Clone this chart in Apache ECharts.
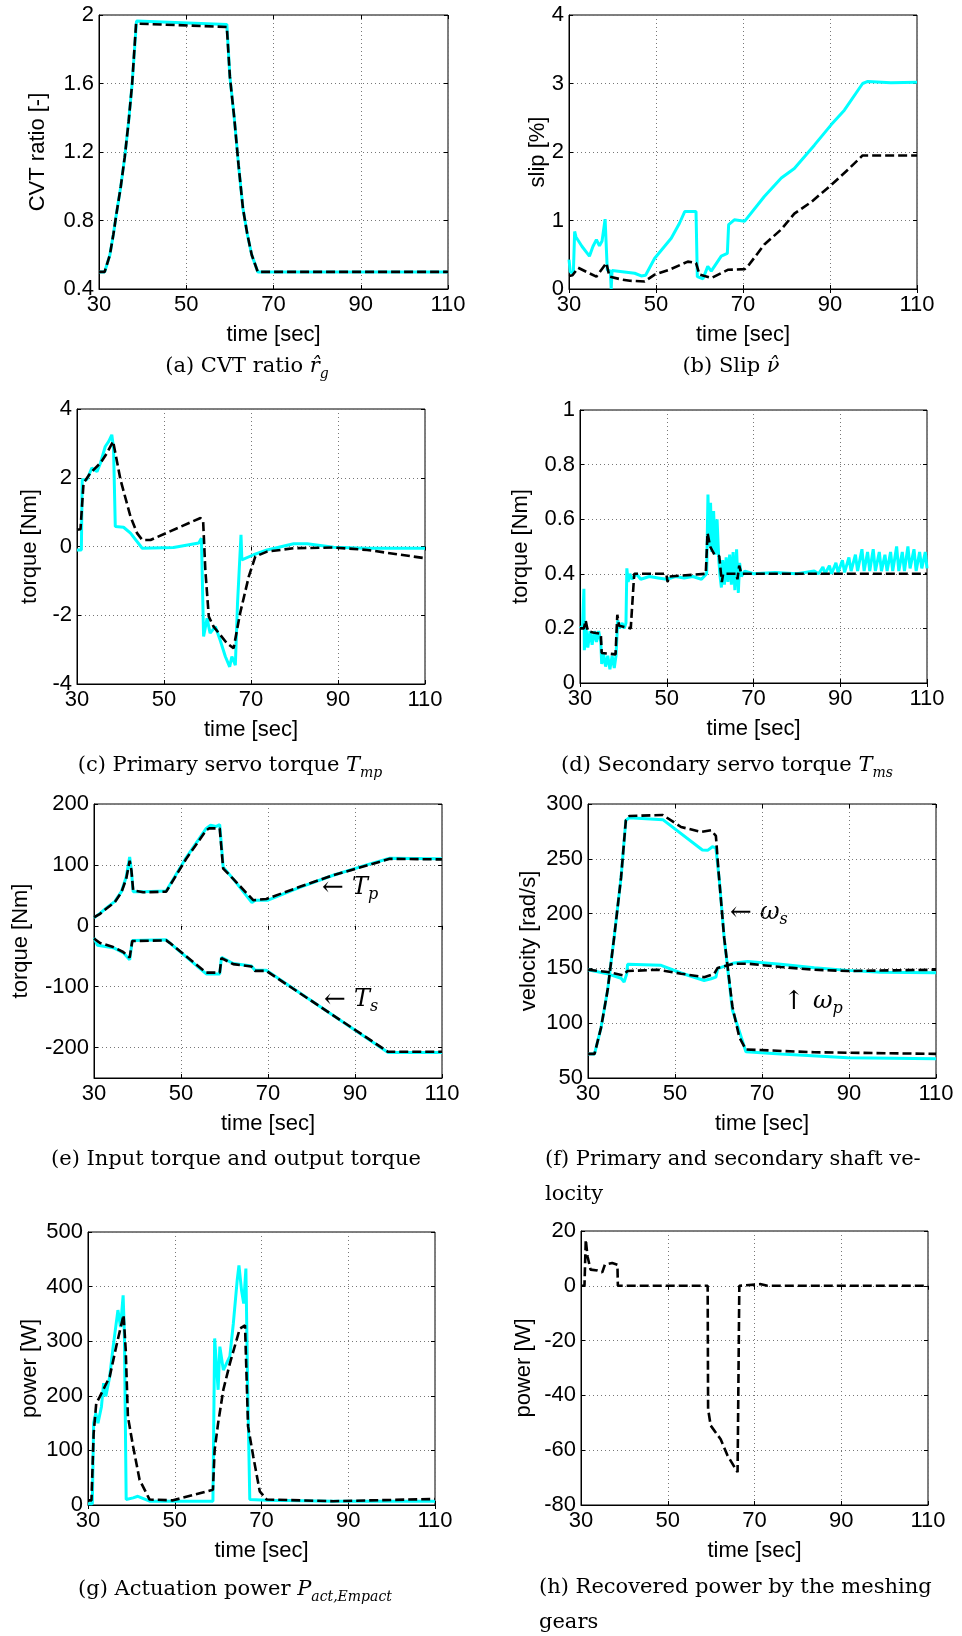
<!DOCTYPE html>
<html><head><meta charset="utf-8">
<script src="https://cdn.jsdelivr.net/npm/echarts@6/dist/echarts.min.js"></script>
<style>html,body{margin:0;padding:0;background:#fff}#c{width:962px;height:1636px}</style>
</head><body><div id="c"></div>
<script>
// ---------- tick labels ----------
const timeTicks = [30, 50, 70, 90, 110];
const ticksA = [0.4, 0.8, 1.2, 1.6, 2];
const ticksB = [0, 1, 2, 3, 4];
const ticksC = [-4, -2, 0, 2, 4];
const ticksD = [0, 0.2, 0.4, 0.6, 0.8, 1];
const ticksE = [-200, -100, 0, 100, 200];
const ticksF = [50, 100, 150, 200, 250, 300];
const ticksG = [0, 100, 200, 300, 400, 500];
const ticksH = [-80, -60, -40, -20, 0, 20];

// ---------- (a) CVT ratio ----------
const cvtRef = [[30,0.5],[31.3,0.5],[32.5,0.6],[33.3,0.72],[34,0.84],[35,1.0],[35.9,1.17],[36.8,1.38],[37.6,1.6],[38.5,1.95],[59.3,1.93],[60,1.64],[61,1.4],[62,1.12],[63,0.87],[64,0.72],[65,0.6],[66.4,0.5],[110,0.5]];
const cvtMeas = [[30,0.5],[31.3,0.5],[32.5,0.6],[33.3,0.72],[34,0.84],[35,1.0],[35.9,1.17],[36.8,1.38],[37.6,1.6],[38.6,1.965],[59.3,1.945],[60,1.64],[61,1.4],[62,1.12],[63,0.87],[64,0.72],[65,0.6],[66.4,0.5],[110,0.5]];

// ---------- (b) slip ----------
const slipRef = [[30,0.19],[30.8,0.2],[32.1,0.31],[34,0.25],[36.3,0.18],[38.6,0.38],[39.3,0.18],[42,0.14],[44,0.12],[47.4,0.11],[49.7,0.21],[53,0.28],[57.3,0.4],[59.2,0.38],[60,0.21],[62.7,0.16],[66.5,0.28],[70.4,0.29],[71.1,0.33],[74.9,0.65],[78.8,0.87],[81.8,1.1],[85.7,1.27],[90.3,1.52],[94.1,1.74],[97.5,1.95],[110,1.95]];
const slipMeas = [[30,0.43],[30.3,0.25],[31,0.23],[31.3,0.84],[31.6,0.76],[33,0.62],[34.7,0.48],[35.5,0.62],[36.3,0.72],[37,0.63],[37.6,0.7],[38.3,1.02],[38.8,0.28],[39.5,0.26],[39.7,0],[39.9,0.27],[41.3,0.26],[45.1,0.23],[46.6,0.19],[47.6,0.2],[49.7,0.45],[53.5,0.74],[55.4,0.96],[56.6,1.13],[59.2,1.13],[59.5,0.18],[60.8,0.15],[61.9,0.33],[62.7,0.26],[65,0.48],[66.4,0.52],[66.7,0.94],[68,1.01],[70.4,0.99],[74.9,1.35],[78.8,1.62],[81.8,1.76],[86.4,2.1],[90.3,2.4],[93.3,2.61],[97.5,3.0],[98.7,3.03],[104,3.01],[110,3.02]];

// ---------- (c) primary servo torque ----------
const tmpRef = [[30,0.49],[30.8,0.5],[31.5,1.84],[33.1,2.14],[35.4,2.43],[36.9,2.72],[38.3,3.06],[40,1.94],[42.3,0.87],[43.8,0.39],[45,0.19],[46.9,0.19],[58.4,0.83],[59,0.73],[59.5,-0.68],[60.3,-2.04],[61.4,-2.33],[64.5,-2.82],[66,-2.96],[67.5,-1.94],[69.5,-0.87],[71,-0.29],[73.7,-0.15],[79.8,-0.05],[89,-0.03],[96.7,-0.1],[110,-0.34]];
const tmpMeas = [[30,-0.1],[31,-0.1],[31.2,1.94],[32.3,1.95],[33.4,2.28],[34.6,2.18],[35.4,2.43],[36.5,2.91],[37.3,3.06],[38,3.25],[38.4,2.86],[38.8,0.58],[40.7,0.56],[42.3,0.39],[45,-0.05],[52.2,-0.03],[58,0.1],[58.6,0.24],[59.1,-2.62],[59.9,-2.09],[60.6,-2.52],[61.8,-2.33],[62.9,-2.72],[64.1,-3.2],[65.1,-3.5],[65.6,-3.2],[66.4,-3.45],[66.9,-1.65],[67.7,0.34],[67.9,-0.39],[70.6,-0.24],[73.7,-0.1],[79.8,0.08],[82.9,0.08],[89,-0.02],[96.7,-0.05],[110,-0.05]];

// ---------- (d) secondary servo torque ----------
const tmsRef = [[30,0.2],[30.9,0.2],[31.3,0.23],[31.8,0.19],[33,0.185],[34.8,0.18],[35,0.11],[38.2,0.105],[38.6,0.25],[39,0.21],[41.7,0.2],[42.1,0.3],[42.5,0.4],[49.9,0.4],[50.2,0.37],[50.5,0.39],[59,0.4],[59.4,0.55],[60,0.5],[61,0.47],[62.1,0.465],[62.5,0.4],[62.7,0.37],[63,0.4],[66,0.4],[66.3,0.38],[66.7,0.43],[67.2,0.4],[110,0.4]];
const tmsMeas = [[30,0.2],[30.6,0.21],[30.9,0.345],[31.0,0.12],[31.4,0.2],[31.8,0.13],[32.3,0.19],[32.8,0.14],[33.3,0.19],[33.8,0.15],[34.3,0.19],[34.8,0.15],[35.0,0.07],[35.4,0.11],[35.9,0.06],[36.4,0.1],[36.9,0.05],[37.4,0.1],[37.9,0.055],[38.3,0.1],[38.7,0.23],[39.1,0.2],[39.7,0.22],[40.2,0.2],[40.6,0.22],[40.8,0.42],[41.1,0.37],[41.5,0.4],[42,0.38],[43,0.4],[44,0.38],[46,0.39],[48,0.385],[50,0.38],[52,0.39],[54,0.385],[56,0.39],[58,0.38],[59.2,0.4],[59.5,0.69],[59.8,0.5],[60.1,0.66],[60.4,0.48],[60.8,0.63],[61.2,0.47],[61.6,0.6],[62,0.45],[62.3,0.39],[62.6,0.35],[62.9,0.45],[63.3,0.36],[63.7,0.46],[64.1,0.37],[64.5,0.47],[64.9,0.36],[65.3,0.48],[65.7,0.34],[66.1,0.49],[66.5,0.33],[66.8,0.44],[67.2,0.39],[68,0.41],[70,0.4],[75,0.405],[80,0.4],[84,0.41],[85,0.4],[86,0.425],[86.5,0.4],[87.5,0.43],[88,0.4],[89,0.44],[89.5,0.405],[90.5,0.45],[91,0.405],[92,0.46],[92.5,0.41],[93.5,0.47],[94,0.41],[95,0.49],[95.5,0.41],[96.3,0.48],[96.8,0.41],[97.6,0.49],[98.1,0.41],[99,0.48],[99.5,0.41],[100.3,0.47],[100.8,0.41],[101.6,0.48],[102.1,0.41],[103,0.5],[103.5,0.41],[104.3,0.48],[104.8,0.41],[105.6,0.5],[106.1,0.42],[107,0.49],[107.5,0.41],[108.3,0.48],[108.8,0.42],[109.6,0.48],[110,0.42]];

// ---------- (e) input / output torque ----------
const tpRef = [[30,14],[31.3,19],[32.8,28],[34.8,39],[36.3,55],[37.4,77],[38.2,107],[38.6,91],[39,58],[41.3,55],[46.6,56],[47,58],[51.2,110],[55.8,157],[56.5,160],[58.9,160],[59.7,94],[62,77],[66.6,42],[69.6,44],[77.3,64],[85,83],[92.7,99],[98,110],[110,109]];
const tpMeas = [[30,13],[31.3,20],[32.8,29],[34.8,40],[36.3,56],[37.4,80],[38.2,113],[38.6,90],[39,56],[41.3,56],[46.6,57],[47,59],[51.2,112],[55.8,160],[56.8,165],[58,163],[58.9,166],[59.7,96],[62,77],[66.3,38],[67,42],[70,42],[77.3,63],[85,83],[92.7,100],[98,111],[110,110]];
const tsRef = [[30,-21],[31.3,-28],[34.4,-35],[36.7,-43],[38.2,-52],[38.8,-25],[46.6,-24],[47.4,-28],[55.8,-77],[58.9,-77],[59.3,-53],[62,-63],[66.2,-67],[67,-74],[69.6,-74],[97.6,-207],[110,-207]];
const tsMeas = [[30,-20],[30.8,-32],[34.4,-36],[36.7,-44],[38.2,-56],[38.8,-24],[46.6,-23],[47.4,-28],[55.8,-79],[58.9,-79],[59.3,-52],[62,-62],[66.2,-66],[67,-73],[69.6,-73],[97.6,-208],[110,-208]];

// ---------- (f) shaft velocities ----------
const wsRef = [[30,72],[31.5,72],[33,96],[34.5,130],[36,178],[37.6,233],[38.7,285],[39.5,289],[47.2,290],[51.4,279],[56,274.5],[58.3,276],[59.4,271],[60,239],[61.3,178],[63.2,115],[64.8,87],[66.3,76],[82,73.5],[110,72]];
const wsMeas = [[30,72],[31.5,72],[33,96],[34.5,130],[36,178],[37.6,233],[38.7,285],[39.5,287.5],[47.2,285.7],[56.3,258],[57.5,257.7],[58.6,261],[59.4,260],[60.2,230],[61.3,178],[63.2,112],[66.3,74],[74.3,72],[89.7,68.5],[110,67.6]];
const wpRef = [[30,148.8],[34.5,146.7],[38,143.7],[39.1,147.6],[46,148.8],[51.4,145.2],[56.7,142],[59,145],[59.8,150.4],[63.6,154.3],[66.7,154.3],[74.3,151.3],[82,148.8],[89.7,147.6],[110,148.8]];
const wpMeas = [[30,148.8],[34.5,145],[37.6,141],[38.3,137.6],[38.9,145],[39.1,153.7],[46.8,152.8],[51.4,145.8],[56.7,139],[58.3,140.6],[59.4,142],[59.8,149.8],[63.6,155],[66.7,156.4],[74.3,153.7],[82,150.7],[89.7,148.2],[97.3,146.4],[110,146.1]];

// ---------- (g) actuation power ----------
const pactRef = [[30,8.5],[30.8,8.5],[31.3,131],[31.9,186],[32.7,198],[35,235],[36.5,290],[38.2,348],[38.7,284],[39.2,162],[40.4,107],[41.9,46],[44.2,10],[49.6,8.5],[58.8,28],[59.2,101],[60,150],[61.2,211],[62.7,259],[65,323],[66.2,329],[66.9,144],[68.1,89],[69.6,25],[71.2,10],[86.5,7],[110,11]];
const pactMeas = [[30,2.4],[31,2.4],[31.3,150],[31.8,168],[32.3,150],[33.1,180],[33.6,223],[34.1,199],[35,235],[35.8,290],[36.9,357],[37.5,326],[38.1,384],[38.4,308],[38.8,10],[40.4,13],[41.5,16],[44.2,7],[58.8,7],[59.2,305],[60,211],[60.4,290],[61.2,247],[62.7,272],[63.5,332],[64.4,412],[64.8,439],[65.4,393],[65.9,369],[66.4,433],[66.8,223],[67.3,10],[71.2,8.5],[86.5,7],[110,7]];

// ---------- (h) recovered power ----------
const precRef = [[30,0],[30.8,0],[31.1,16.8],[31.5,10.8],[32.2,5.9],[33.8,5.6],[34.9,4.9],[35.5,7.7],[37.2,8.3],[38.4,7.7],[38.5,0],[59.2,0],[59.3,-45],[59.9,-51],[62.2,-56],[63.8,-62],[66.1,-68],[66.5,0],[71.5,0.6],[73,0],[110,0]];

// ---------- layout ----------
const panels = [
  {g:[99,15,349,274],  y:[0.4,2],   t:ticksA, name:'CVT ratio [-]', gap:50, lines:[[cvtMeas,'m'],[cvtRef,'r']]},
  {g:[569,15,348,274], y:[0,4],     t:ticksB, name:'slip [%]',      gap:20, lines:[[slipMeas,'m'],[slipRef,'r']]},
  {g:[77,409,348,275], y:[-4,4],    t:ticksC, name:'torque [Nm]',   gap:36, lines:[[tmpMeas,'m'],[tmpRef,'r']]},
  {g:[580,410,347,273],y:[0,1],     t:ticksD, name:'torque [Nm]',   gap:48, lines:[[tmsMeas,'m'],[tmsRef,'r']]},
  {g:[94,804,348,274], y:[-250,200],t:ticksE, name:'torque [Nm]',   gap:62, lines:[[tpMeas,'m'],[tsMeas,'m'],[tpRef,'r'],[tsRef,'r']]},
  {g:[588,804,348,274],y:[50,300],  t:ticksF, name:'velocity [rad/s]', gap:48, lines:[[wsMeas,'m'],[wpMeas,'m'],[wsRef,'r'],[wpRef,'r']]},
  {g:[88,1232,347,273],y:[0,500],   t:ticksG, name:'power [W]',     gap:47, lines:[[pactMeas,'m'],[pactRef,'r']]},
  {g:[581,1231,347,274],y:[-80,20], t:ticksH, name:'power [W]',     gap:46, lines:[[precRef,'r']]}
];

const SANS = 'Liberation Sans';
const SERIF = 'DejaVu Serif';
const lab = {fontFamily:SANS, fontSize:22, color:'#000'};
const grids = [], xB = [], xT = [], yL = [], yR = [], series = [];
panels.forEach((p, i) => {
  grids.push({left:p.g[0], top:p.g[1], width:p.g[2], height:p.g[3], show:true, borderColor:'#000', borderWidth:1, backgroundColor:'#fff', containLabel:false, outerBoundsMode:'none'});
  xB.push({type:'value', gridIndex:i, min:30, max:110, name:'time [sec]', nameLocation:'middle', nameGap:35, nameMoveOverlap:false,
    nameTextStyle:lab, axisLine:{show:true, onZero:false, lineStyle:{color:'#000', width:1}},
    axisTick:{show:true, inside:true, length:4, customValues:timeTicks, lineStyle:{color:'#000'}},
    axisLabel:{customValues:timeTicks, margin:5, ...lab},
    splitLine:{show:true, lineStyle:{type:[1,3], color:'#777', width:1}}});
  xT.push({type:'value', gridIndex:i, position:'top', min:30, max:110, axisLine:{show:false},
    axisTick:{show:true, inside:true, length:4, customValues:timeTicks, lineStyle:{color:'#000'}},
    axisLabel:{show:false}, splitLine:{show:false}});
  yL.push({type:'value', gridIndex:i, min:p.y[0], max:p.y[1], name:p.name, nameLocation:'middle', nameGap:p.gap, nameMoveOverlap:false,
    nameTextStyle:lab, axisLine:{show:true, onZero:false, lineStyle:{color:'#000', width:1}},
    axisTick:{show:true, inside:true, length:4, customValues:p.t, lineStyle:{color:'#000'}},
    axisLabel:{customValues:p.t, margin:5, ...lab},
    splitLine:{show:true, lineStyle:{type:[1,3], color:'#777', width:1}}});
  yR.push({type:'value', gridIndex:i, position:'right', min:p.y[0], max:p.y[1], axisLine:{show:false},
    axisTick:{show:true, inside:true, length:4, customValues:p.t, lineStyle:{color:'#000'}},
    axisLabel:{show:false}, splitLine:{show:false}});
  p.lines.forEach(([d, k]) => {
    series.push({type:'line', xAxisIndex:i, yAxisIndex:i, data:d, showSymbol:false, symbol:'none', silent:true,
      animation:false, z: k === 'm' ? 2 : 3,
      lineStyle: k === 'm' ? {color:'#00ffff', width:3} : {color:'#000', width:2.6, type:[9,4]}});
  });
});

const R = {
  n:{fontFamily:SERIF, fontSize:21, lineHeight:28, color:'#000'},
  i:{fontFamily:SERIF, fontStyle:'italic', fontSize:21, lineHeight:28, color:'#000'},
  s:{fontFamily:SERIF, fontStyle:'italic', fontSize:14, lineHeight:14, verticalAlign:'bottom', color:'#000'},
  ar:{fontFamily:SERIF, fontSize:26, lineHeight:30, color:'#444'},
  ai:{fontFamily:SERIF, fontStyle:'italic', fontSize:24, lineHeight:30, color:'#000'},
  as:{fontFamily:SERIF, fontStyle:'italic', fontSize:16, lineHeight:16, verticalAlign:'bottom', color:'#000'}
};
function txt(x, y, text, align) {
  return {type:'text', x:x, y:y, silent:true,
    style:{text:text, rich:R, textAlign:align || 'center', textVerticalAlign:'middle', align:align || 'center', verticalAlign:'middle'}};
}
const graphics = [
  txt(247, 367, '{n|(a) CVT ratio }{i|r\u0302}{s|g}'),
  txt(731, 367, '{n|(b) Slip }{i|\u03bd\u0302}'),
  txt(230, 766, '{n|(c) Primary servo torque }{i|T}{s|mp}'),
  txt(727, 766, '{n|(d) Secondary servo torque }{i|T}{s|ms}'),
  txt(236, 1160, '{n|(e) Input torque and output torque}'),
  txt(545, 1160, '{n|(f) Primary and secondary shaft ve-}', 'left'),
  txt(545, 1195, '{n|locity}', 'left'),
  txt(235, 1590, '{n|(g) Actuation power }{i|P}{s|act,Empact}'),
  txt(539, 1588, '{n|(h) Recovered power by the meshing}', 'left'),
  txt(539, 1623, '{n|gears}', 'left'),
  txt(322, 888, '{ar|\u2190 }{ai|T}{as|p}', 'left'),
  txt(324, 1000, '{ar|\u2190 }{ai|T}{as|s}', 'left'),
  txt(730, 913, '{ar|\u2190 }{ai|\u03c9}{as|s}', 'left'),
  txt(783, 1002, '{ar|\u2191 }{ai|\u03c9}{as|p}', 'left')
];

const chart = echarts.init(document.getElementById('c'), null, {renderer:'canvas', width:962, height:1636});
chart.setOption({
  backgroundColor:'#fff',
  animation:false,
  grid:grids,
  xAxis:xB.concat(xT),
  yAxis:yL.concat(yR),
  series:series,
  graphic:graphics
});
</script>
</body></html>
